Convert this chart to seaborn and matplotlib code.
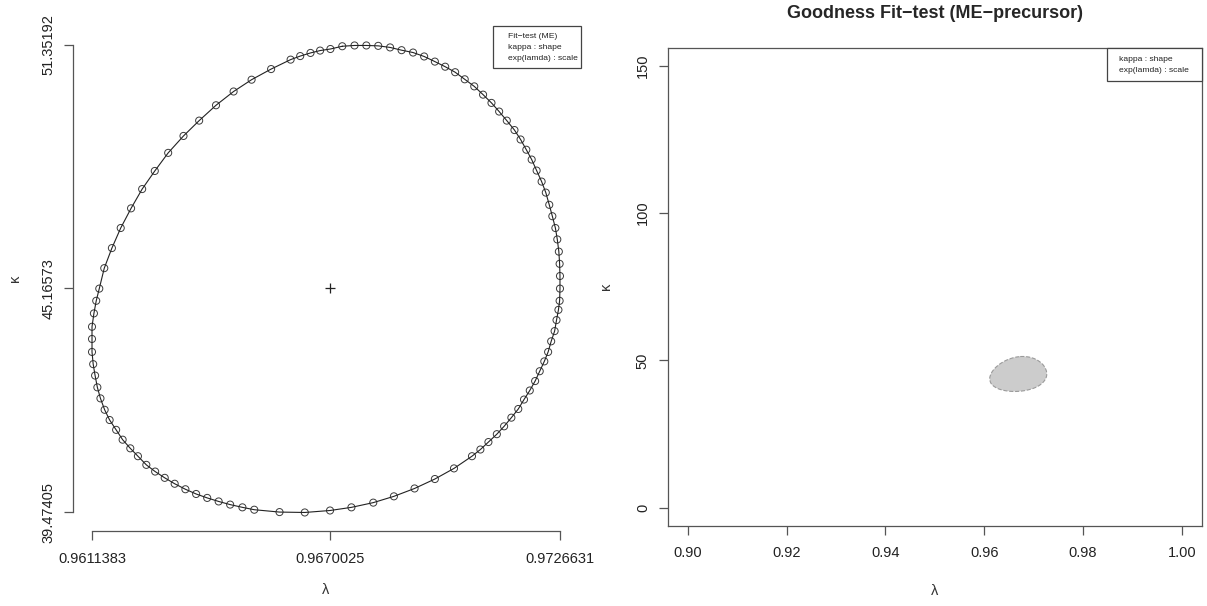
import matplotlib
matplotlib.use("Agg")
import matplotlib.pyplot as plt
from matplotlib.patches import Rectangle
import numpy as np
import pandas as pd
import seaborn as sns

# confidence region (lambda, kappa)
lam = [0.967301, 0.967603, 0.967895, 0.968187, 0.968479, 0.968762, 0.969045, 0.969318,
       0.969582, 0.969836, 0.970081, 0.970317, 0.970552, 0.970769, 0.970976, 0.971165,
       0.971353, 0.971542, 0.971693, 0.971834, 0.971966, 0.972088, 0.972211, 0.972314,
       0.972399, 0.972475, 0.972550, 0.972597, 0.972635, 0.972654, 0.972663, 0.972663,
       0.972654, 0.972625, 0.972578, 0.972531, 0.972446, 0.972371, 0.972277, 0.972164,
       0.972051, 0.971919, 0.971777, 0.971636, 0.971466, 0.971287, 0.971108, 0.970901,
       0.970703, 0.970496, 0.970053, 0.969582, 0.969082, 0.968573, 0.968065, 0.967527,
       0.967000, 0.966378, 0.965756, 0.965134, 0.964842, 0.964540, 0.964257, 0.963975,
       0.963702, 0.963438, 0.963174, 0.962929, 0.962693, 0.962476, 0.962269, 0.962081,
       0.961892, 0.961732, 0.961572, 0.961449, 0.961346, 0.961270, 0.961214, 0.961167,
       0.961138, 0.961138, 0.961138, 0.961185, 0.961242, 0.961317, 0.961440, 0.961628,
       0.961845, 0.962100, 0.962373, 0.962684, 0.963014, 0.963391, 0.963777, 0.964192,
       0.964625, 0.965068, 0.965549, 0.966029, 0.966265, 0.966519, 0.966755, 0.967009]
kap = [51.32, 51.34, 51.34, 51.33, 51.29, 51.22, 51.16, 51.06,
       50.93, 50.80, 50.66, 50.48, 50.30, 50.09, 49.88, 49.66,
       49.43, 49.19, 48.95, 48.69, 48.44, 48.16, 47.88, 47.60,
       47.29, 47.00, 46.70, 46.41, 46.10, 45.79, 45.48, 45.16,
       44.85, 44.62, 44.36, 44.08, 43.82, 43.55, 43.31, 43.06,
       42.81, 42.57, 42.34, 42.10, 41.88, 41.66, 41.46, 41.26,
       41.07, 40.90, 40.59, 40.32, 40.08, 39.88, 39.72, 39.60,
       39.52, 39.47, 39.48, 39.54, 39.60, 39.67, 39.75, 39.84,
       39.94, 40.06, 40.20, 40.35, 40.51, 40.68, 40.90, 41.10,
       41.32, 41.57, 41.82, 42.08, 42.37, 42.65, 42.95, 43.24,
       43.55, 43.88, 44.19, 44.53, 44.85, 45.16, 45.68, 46.19,
       46.70, 47.20, 47.69, 48.15, 48.61, 49.04, 49.43, 49.82,
       50.17, 50.47, 50.74, 50.98, 51.07, 51.15, 51.21, 51.25]

lam_hat = 0.9670025
kap_hat = 45.16573
lam_ticks = [0.9611383, 0.9670025, 0.9726631]
kap_ticks = [39.47405, 45.16573, 51.35192]

right_xticks = [0.90, 0.92, 0.94, 0.96, 0.98, 1.00]
right_yticks = [0, 50, 100, 150]

legend_left = ["Fit\u2212test (ME)", "kappa : shape", "exp(lamda) : scale"]
legend_right = ["kappa : shape", "exp(lamda) : scale"]
title_right = "Goodness Fit\u2212test (ME\u2212precursor)"

sns.set_style("white")
plt.rcParams['font.family'] = ['Liberation Sans', 'DejaVu Sans']

W, H = 1207, 606
fig = plt.figure(figsize=(W / 100, H / 100), dpi=100)

spine_col = '#555555'
tick_kw = dict(length=6.5, width=0.9, color=spine_col, labelsize=10.5,
               labelcolor='#222222')


def style_ticks(ax):
    ax.tick_params(axis='x', pad=8.5, bottom=True, **tick_kw)
    ax.tick_params(axis='y', pad=6.5, left=True, **tick_kw)


# closed curve
region = pd.DataFrame({'lam': lam + lam[:1], 'kap': kap + kap[:1]})
pts = pd.DataFrame({'lam': lam, 'kap': kap})

# ---- left panel ----
ax1 = fig.add_axes([73.3 / W, 1 - 531 / H, 505.4 / W, 504.7 / H])
sns.lineplot(data=region, x='lam', y='kap', sort=False, estimator=None,
             color='#222222', linewidth=0.8, ax=ax1)
sns.scatterplot(data=pts, x='lam', y='kap', marker='o', s=26,
                facecolor='none', edgecolor='#3a3a3a', linewidth=0.7, ax=ax1)
ax1.scatter([lam_hat], [kap_hat], marker='+', s=55, color='#222222', linewidth=0.9)

lr = lam_ticks[-1] - lam_ticks[0]
kr = kap_ticks[-1] - kap_ticks[0]
ax1.set_xlim(lam_ticks[0] - 0.04 * lr, lam_ticks[-1] + 0.04 * lr)
ax1.set_ylim(kap_ticks[0] - 0.04 * kr, kap_ticks[-1] + 0.04 * kr)
ax1.set_xticks(lam_ticks)
ax1.set_xticklabels([f"{v:.7f}" for v in lam_ticks])
ax1.set_yticks(kap_ticks)
ax1.set_yticklabels([f"{v:.5f}" for v in kap_ticks], rotation=90, va='center')
for s in ['top', 'right']:
    ax1.spines[s].set_visible(False)
ax1.spines['left'].set_bounds(kap_ticks[0], kap_ticks[-1])
ax1.spines['bottom'].set_bounds(lam_ticks[0], lam_ticks[-1])
for s in ['left', 'bottom']:
    ax1.spines[s].set_color(spine_col)
    ax1.spines[s].set_linewidth(0.9)
style_ticks(ax1)
ax1.set_xlabel("\u03bb", fontsize=10.5, color='#333333')
ax1.set_ylabel("\u03ba", fontsize=10.5, color='#333333')
ax1.xaxis.set_label_coords(0.5, (531 - 590) / 504.7)
ax1.xaxis.label.set_va('center')
ax1.yaxis.set_label_coords((15 - 73.3) / 505.4, 0.5)
ax1.yaxis.label.set_va('center')
ax1.patch.set_alpha(0)

# ---- right panel ----
ax2 = fig.add_axes([668 / W, 1 - 525.5 / H, 533.5 / W, 477.5 / H])
ax2.fill(lam, kap, facecolor='#cccccc', edgecolor='none')
sns.lineplot(data=region, x='lam', y='kap', sort=False, estimator=None,
             color='#9a9a9a', linewidth=0.8, linestyle='--', ax=ax2)
ax2.set_xlim(0.896, 1.004)
ax2.set_ylim(-6, 156)
ax2.set_xticks(right_xticks)
ax2.set_xticklabels([f"{v:.2f}" for v in right_xticks])
ax2.set_yticks(right_yticks)
ax2.set_yticklabels([str(v) for v in right_yticks], rotation=90, va='center')
for s in ax2.spines.values():
    s.set_color(spine_col)
    s.set_linewidth(0.9)
style_ticks(ax2)
ax2.set_xlabel("\u03bb", fontsize=10.5, color='#333333')
ax2.set_ylabel("\u03ba", fontsize=10.5, color='#333333')
ax2.xaxis.set_label_coords(0.5, (525.5 - 591) / 477.5)
ax2.xaxis.label.set_va('center')
ax2.yaxis.set_label_coords((606 - 668) / 533.5, 0.5)
ax2.yaxis.label.set_va('center')
ax2.set_title(title_right, fontsize=13, fontweight='bold', pad=21.5)

# ---- legends, drawn in pixel coords on an overlay ----
ov = fig.add_axes([0, 0, 1, 1])
ov.set_xlim(0, W)
ov.set_ylim(H, 0)
ov.axis('off')
ov.patch.set_alpha(0)

ov.add_patch(Rectangle((493, 26), 88, 42, facecolor='white', edgecolor='#444444', lw=0.9))
for i, t in enumerate(legend_left):
    ov.text(508, 37 + i * 10.5, t, fontsize=6.1, va='center', ha='left', color='#222222')

ov.add_patch(Rectangle((1107, 48), 94.5, 33, facecolor='white', edgecolor='#444444', lw=0.9))
for i, t in enumerate(legend_right):
    ov.text(1119, 59.5 + i * 11, t, fontsize=6.1, va='center', ha='left', color='#222222')

fig.savefig("out.png", dpi=100)
